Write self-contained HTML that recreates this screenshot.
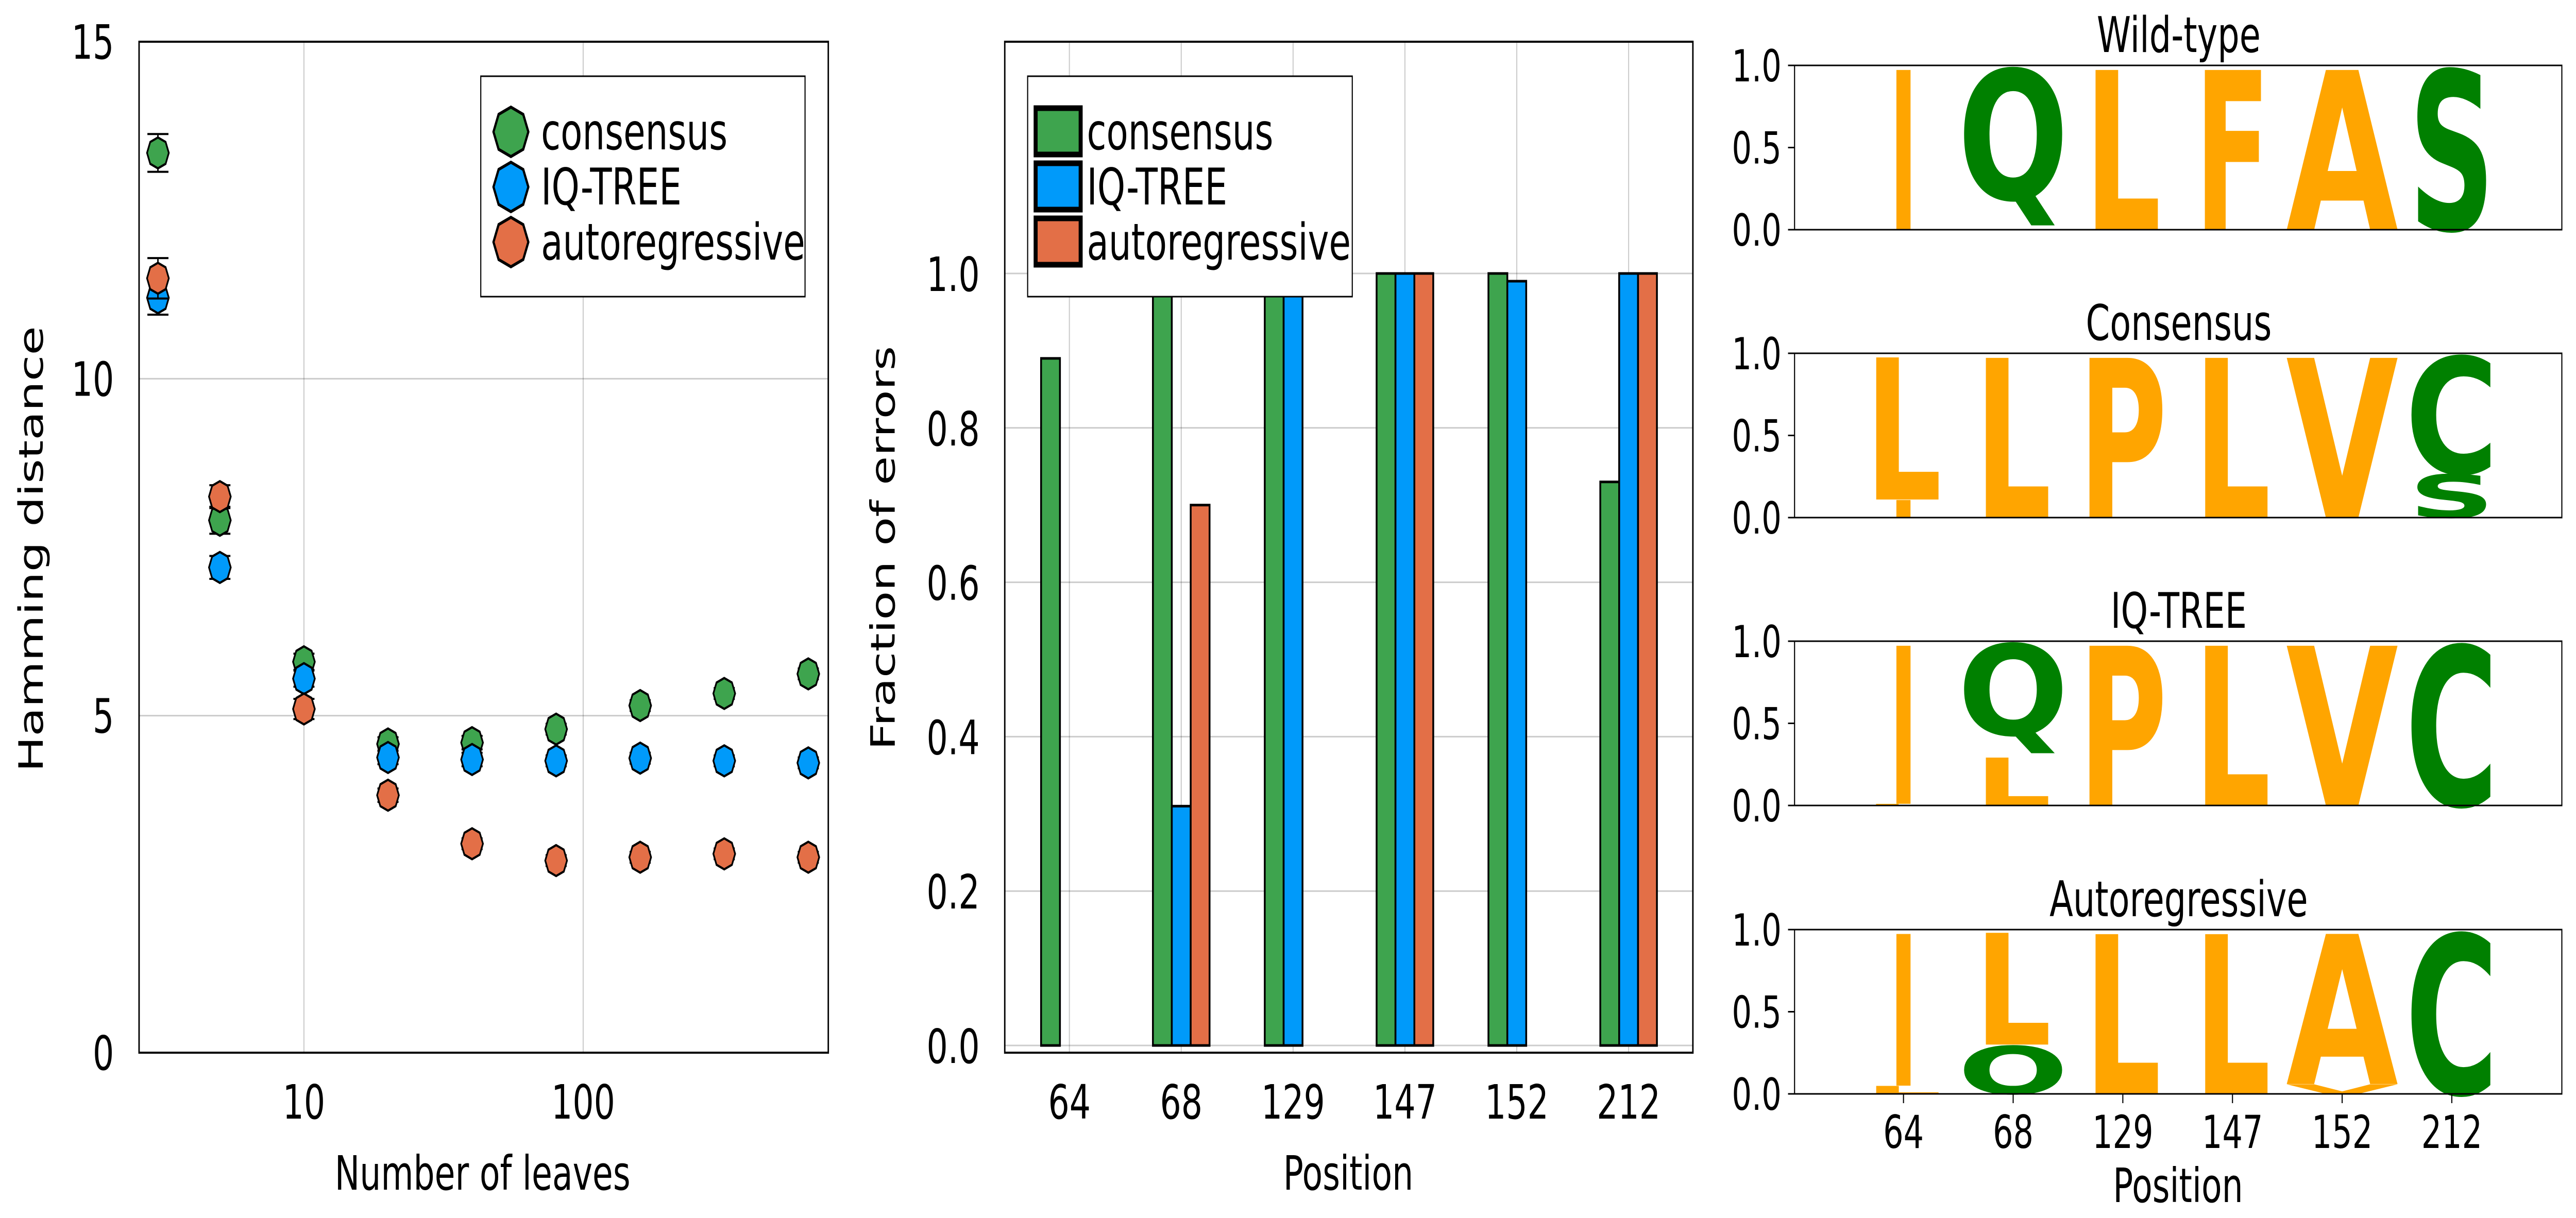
<!DOCTYPE html>
<html><head><meta charset="utf-8"><style>
html,body{margin:0;padding:0;background:#fff;overflow:hidden;width:100%;height:100%}
svg{display:block;width:100vw;height:100vh}
text{font-family:"DejaVu Sans","Liberation Sans",sans-serif;fill:#000}
</style></head><body>
<svg id="fig" xmlns="http://www.w3.org/2000/svg" viewBox="0 0 7094 2365" preserveAspectRatio="none">
<rect width="7094" height="2365" fill="#fff"/>
</svg>
<script>
// ---------- Panel 1 data ----------
const leaves = [3,5,10,20,40,80,160,320,640];
const consensusHD = [13.35,7.9,5.8,4.58,4.6,4.8,5.15,5.33,5.62];
const iqtreeHD    = [11.2,7.2,5.55,4.38,4.35,4.33,4.37,4.33,4.3];
const autoregHD   = [11.49,8.25,5.1,3.82,3.1,2.85,2.9,2.95,2.9];
const consensusErr = [0.28,0.2,0.12,0.1,0.1,0.08,0.08,0.08,0.08];
const iqtreeErr    = [0.25,0.17,0.12,0.1,0.1,0.08,0.08,0.08,0.08];
const autoregErr   = [0.3,0.17,0.15,0.1,0.08,0.08,0.08,0.08,0.08];
const p1YTicks = [0,5,10,15];
const p1XTicks = [10,100];
const seriesNames = ["consensus","IQ-TREE","autoregressive"];
// ---------- Panel 2 data ----------
const positions = ["64","68","129","147","152","212"];
const consensusFrac = [0.89,1.0,1.0,1.0,1.0,0.73];
const iqtreeFrac    = [0.0,0.31,1.0,1.0,0.99,1.0];
const autoregFrac   = [0.0,0.70,0.0,1.0,0.0,1.0];
const p2YTicks = [0.0,0.2,0.4,0.6,0.8,1.0];
// ---------- Panel 3 data (letter, bottom, top) ----------
const logoTitles = ["Wild-type","Consensus","IQ-TREE","Autoregressive"];
const wildLogo = [[["I",0,1]],[["Q",0,1]],[["L",0,1]],[["F",0,1]],[["A",0,1]],[["S",0,1]]];
const consLogo = [[["I",0,0.11],["L",0.11,1]],[["L",0,1]],[["P",0,1]],[["L",0,1]],[["V",0,1]],[["S",0,0.27],["C",0.27,1]]];
const iqLogo   = [[["L",0,0.01],["I",0.01,1]],[["L",0,0.3],["Q",0.3,1]],[["P",0,1]],[["L",0,1]],[["V",0,1]],[["C",0,1]]];
const arLogo   = [[["L",0,0.05],["I",0.05,1]],[["O",0,0.3],["L",0.3,1]],[["L",0,1]],[["L",0,1]],[["V",0,0.06],["A",0.06,1]],[["C",0,1]]];
const logoYTicks = [0.0,0.5,1.0];

const NS="http://www.w3.org/2000/svg";
const svg=document.getElementById('fig');
function mk(tag,attrs,parent){const e=document.createElementNS(NS,tag);for(const k in attrs)e.setAttribute(k,attrs[k]);(parent||svg).appendChild(e);return e;}
function txt(s,attrs,parent){const e=mk('text',attrs,parent);e.textContent=s;return e;}
const COLS=["#3EA44E","#009AFA","#E36F47"];

// ================= PANEL 1 =================
const P1={x0:383,x1:2281,y0:81,y1:2044};
const xs=v=>837+(Math.log10(v)-1)*769;
const ys=v=>P1.y1-v*(P1.y1-P1.y0)/15;
let g1=mk('g',{});


p1XTicks.forEach(t=>{
  let l=mk('line',{x1:xs(t),x2:xs(t),y1:P1.y0,y2:P1.y1,stroke:'#000','stroke-opacity':0.2,'stroke-width':3},g1);
  
  
  let lb=txt(String(t),{x:xs(t),y:2172,'font-size':92,'text-anchor':'middle'},g1);
  
  
});
p1YTicks.forEach(t=>{
  if(t>0&&t<15){let l=mk('line',{x1:P1.x0,x2:P1.x1,y1:ys(t),y2:ys(t),stroke:'#000','stroke-opacity':0.2,'stroke-width':3},g1);
  
  }
  let lb=txt(String(t),{x:314,y:ys(t)+33,'font-size':92,'text-anchor':'end'},g1);
  
  
});
let fr1=mk('rect',{x:P1.x0,y:P1.y0,width:P1.x1-P1.x0,height:P1.y1-P1.y0,fill:'none',stroke:'#000','stroke-width':4},g1);


function octo(cx,cy,r){let p=[];for(let i=0;i<8;i++){const a=Math.PI/2+i*Math.PI/4;p.push((cx+r*Math.cos(a)).toFixed(1)+','+(cy-r*Math.sin(a)).toFixed(1));}return p.join(' ');}
const p1Series=[consensusHD,iqtreeHD,autoregHD];
const p1Errs=[consensusErr,iqtreeErr,autoregErr];
p1Series.forEach((ser,s)=>{
  ser.forEach((v,i)=>{
    const x=xs(leaves[i]),e=p1Errs[s][i];
    let eb=mk('path',{d:`M${x},${ys(v+e)}V${ys(v-e)}M${x-29},${ys(v+e)}H${x+29}M${x-29},${ys(v-e)}H${x+29}`,stroke:'#000','stroke-width':4,fill:'none'},g1);
    
    
    let m=mk('polygon',{points:octo(x,ys(v),30),fill:COLS[s],stroke:'#000','stroke-width':4.5},g1);
    
    
  });
});
let lg1=mk('g',{},g1);


mk('rect',{x:1324,y:148,width:893,height:428,fill:'#fff',stroke:'#000','stroke-width':3},lg1);
seriesNames.forEach((n,s)=>{
  const y=256+s*107;
  let m=mk('polygon',{points:octo(1407,y,48),fill:COLS[s],stroke:'#000','stroke-width':6},lg1);
  
  
  let t=txt(n,{x:1490,y:y+34,'font-size':98},lg1);
  
  
});
let yt1=txt('Hamming distance',{x:0,y:0,'font-size':92,'text-anchor':'middle',transform:'translate(118,1066) rotate(-90)'},g1);


let xt1=txt('Number of leaves',{x:1329,y:2310,'font-size':92,'text-anchor':'middle'},g1);



// ================= PANEL 2 =================
const P2={x0:2767,x1:4662,y0:81,y1:2044};
const yb=v=>2030-v*1499;
const cx2=i=>2945+i*308;
let g2=mk('g',{});


positions.forEach((p,i)=>{
  let l=mk('line',{x1:cx2(i),x2:cx2(i),y1:P2.y0,y2:P2.y1,stroke:'#000','stroke-opacity':0.2,'stroke-width':3},g2);
  
  
  let lb=txt(p,{x:cx2(i),y:2172,'font-size':92,'text-anchor':'middle'},g2);
  
  
});
p2YTicks.forEach(t=>{
  let l=mk('line',{x1:P2.x0,x2:P2.x1,y1:yb(t),y2:yb(t),stroke:'#000','stroke-opacity':0.2,'stroke-width':3},g2);
  
  
  let lb=txt(t.toFixed(1),{x:2698,y:yb(t)+34,'font-size':92,'text-anchor':'end'},g2);
  
  
});
const p2Series=[consensusFrac,iqtreeFrac,autoregFrac];
p2Series.forEach((ser,s)=>{
  ser.forEach((v,i)=>{
    const x=cx2(i)-78+s*52;
    let b=mk('rect',{x:x,y:yb(v),width:52,height:Math.max(0,yb(0)-yb(v)),fill:COLS[s],stroke:'#000','stroke-width':5},g2);
    
    
  });
});
let fr2=mk('rect',{x:P2.x0,y:P2.y0,width:P2.x1-P2.x0,height:P2.y1-P2.y0,fill:'none',stroke:'#000','stroke-width':4},g2);


let lg2=mk('g',{},g2);


mk('rect',{x:2830,y:148,width:894,height:428,fill:'#fff',stroke:'#000','stroke-width':3},lg2);
seriesNames.forEach((n,s)=>{
  const y=210+s*107;
  let m=mk('rect',{x:2852,y:y,width:124,height:90,fill:COLS[s],stroke:'#000','stroke-width':11},lg2);
  
  
  let t=txt(n,{x:2993,y:y+80,'font-size':98},lg2);
  
  
});
let yt2=txt('Fraction of errors',{x:0,y:0,'font-size':92,'text-anchor':'middle',transform:'translate(2464,1064) rotate(-90)'},g2);


let xt2=txt('Position',{x:3713,y:2310,'font-size':92,'text-anchor':'middle'},g2);



// ================= PANEL 3 =================
const L3={x0:4942,x1:7055,h:319};
const rowTops=[127,686,1245,1805];
const cx3=i=>5242+i*302;
const letterW={I:77,Q:306,O:306,L:211,F:208,A:309,S:237,P:245,V:309,C:257};
const letterC={I:'#FFA500',L:'#FFA500',F:'#FFA500',A:'#FFA500',P:'#FFA500',V:'#FFA500',Q:'#008000',O:'#008000',S:'#008000',C:'#008000'};
const logos=[wildLogo,consLogo,iqLogo,arLogo];
let g3=mk('g',{});


logos.forEach((logo,r)=>{
  const top=rowTops[r],bot=top+L3.h;
  const yl=v=>bot-v*L3.h;
  let gr=mk('g',{},g3);
  
  
  let tt=txt(logoTitles[r],{x:6000,y:top-26,'font-size':95,'text-anchor':'middle'},gr);
  
  
  logo.forEach((stack,i)=>{
    stack.forEach(([ch,b,t])=>{
      const h=yl(b)-yl(t); if(h<=0.5) return;
      const w=letterW[ch];
      let fs=h/0.75, base=yl(b);
      if(ch==='Q'){fs=h/0.92; base=yl(b)-0.17*fs;}
      let le=txt(ch,{x:cx3(i)-w/2,y:base,'font-size':fs.toFixed(2),'font-weight':'bold',textLength:w,lengthAdjust:'spacingAndGlyphs',style:'fill:'+letterC[ch]},gr);
      
      
    });
  });
  logoYTicks.forEach(t=>{
    mk('line',{x1:L3.x0-18,x2:L3.x0,y1:yl(t),y2:yl(t),stroke:'#000','stroke-width':3},gr);
    let lb=txt(t.toFixed(1),{x:4906,y:yl(t)+31,'font-size':86,'text-anchor':'end'},gr);
    
    
  });
  let fr=mk('rect',{x:L3.x0,y:top,width:L3.x1-L3.x0,height:L3.h,fill:'none',stroke:'#000','stroke-width':3},gr);
  
  
});
positions.forEach((p,i)=>{
  mk('line',{x1:cx3(i),x2:cx3(i),y1:2124,y2:2142,stroke:'#000','stroke-width':3},g3);
  let lb=txt(p,{x:cx3(i),y:2229,'font-size':88,'text-anchor':'middle'},g3);
  
  
});
let xt3=txt('Position',{x:5998,y:2334,'font-size':92,'text-anchor':'middle'},g3);


</script>
</body></html>
